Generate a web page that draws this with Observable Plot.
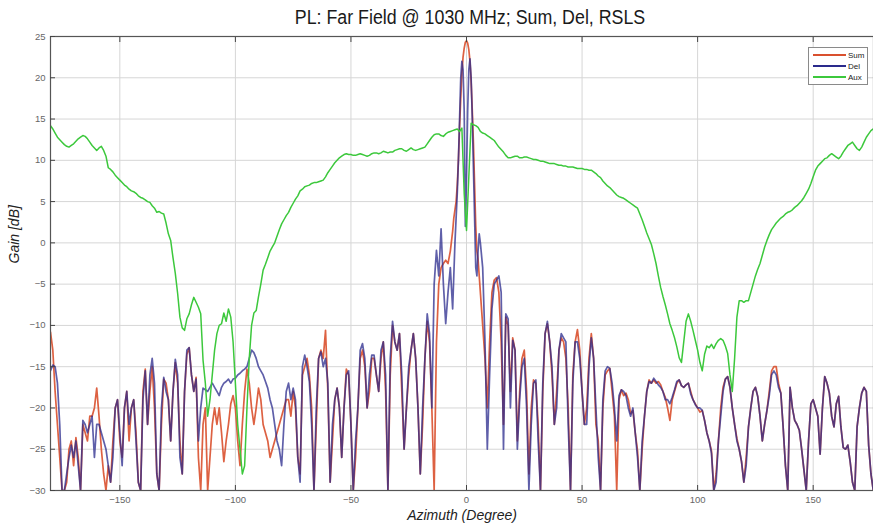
<!DOCTYPE html>
<html><head><meta charset="utf-8">
<script src="https://cdn.jsdelivr.net/npm/d3@7"></script>
<script src="https://cdn.jsdelivr.net/npm/@observablehq/plot@0.6"></script>
<style>
body{margin:0;background:#fff;font-family:"Liberation Sans",Arial,sans-serif;}
#wrap{position:relative;width:873px;height:529px;overflow:hidden;background:#fff;}
#title{height:30px;position:relative;}
#title span{position:absolute;left:0;width:940px;top:7px;text-align:center;font-size:20px;line-height:20px;color:#1a1a1a;transform:scaleX(0.89);transform-origin:470px 0;white-space:nowrap;}
#legend{position:absolute;left:808px;top:47px;width:58px;height:36px;border:1px solid #8a8a8a;background:#fff;font-size:8px;color:#222;}
#legend .row{position:absolute;left:4px;height:10px;display:flex;align-items:center;}
#legend .ln{display:inline-block;width:33px;height:1.5px;margin-right:2px;}
</style></head><body>
<div id="wrap">
<div id="title"><span>PL: Far Field @ 1030 MHz; Sum, Del, RSLS</span></div>
<div id="chart"></div>
<div id="legend"></div>
</div>
<script>
// ---------------- data ----------------
const seriesNames = ["Sum", "Del", "Aux"];
const seriesColors = ["#d9502e", "#2a2a8c", "#3cc83c"];
const xTicks = [-150, -100, -50, 0, 50, 100, 150];
const yTicks = [-30, -25, -20, -15, -10, -5, 0, 5, 10, 15, 20, 25];

const azLeft = d3.range(-180, -6);          // -180 .. -7
const azBeam = d3.range(-6, 6.25, 0.5);     // -6 .. 6 step 0.5
const azRight = d3.range(7, 181);           // 7 .. 180
const azAux = d3.range(-180, 181);          // -180 .. 180

const sumLeft = [
-10.8,-13,-18,-22,-26,-30,-30,-29,-25,-24,
-27,-23.6,-26,-30,-22,-23,-24,-21,-21,-20,
-17.6,-21,-25,-28,-30,-27,-29,-24,-20,-19,
-24,-26,-20,-18,-24,-20,-19,-23,-29,-30,
-18,-15.3,-22,-18,-15,-20,-28,-30,-22,-16.5,
-17,-19,-24,-18,-14.5,-17,-24,-28,-18,-13.5,
-12.7,-16,-18,-16.3,-26,-30,-22,-20,-30,-26,
-22,-20,-22,-20,-23,-26.5,-24,-22,-19.5,-18.5,
-20,-24,-27,-22,-18,-15.3,-17,-20,-22,-20,
-17.6,-19,-22,-23,-24,-26,-25,-24,-23,-22,
-21,-20,-19,-19,-21,-18,-20,-26,-28,-16,
-15,-14,-16,-20,-30,-22,-14,-13,-14,-10.6,
-18,-29,-24,-19,-17.6,-20,-26,-20,-15.3,-16,
-22,-30,-26,-20,-14,-13,-15,-20,-18,-14,
-14,-16,-18,-14,-12,-18,-30,-16,-10,-12,
-13,-11,-18,-25,-20,-16,-13,-11,-14,-20,
-28,-22,-14,-9.5,-12,-20,-30,-12,-5,-3,
-2.5,-2.1,-2.5,-1];
const delLeft = [
-15.5,-14.8,-15,-17,-22,-30,-30,-28,-26,-24.5,
-26,-24,-27,-30,-21.5,-22,-23,-22,-21,-26,
-22,-22,-23,-24,-25,-27,-29,-26,-20,-19,
-23,-27,-20,-18,-22,-20,-19,-24,-29,-30,
-19,-15.5,-22,-16,-14,-17,-28,-30,-20,-16.3,
-18,-19,-24,-18,-14.1,-16,-26,-28,-18,-13,
-12.7,-16,-18,-16.5,-24,-20,-17.6,-17.8,-18,-17.5,
-17,-17.5,-18,-18.5,-17.5,-17,-16.8,-16.5,-17,-16.5,
-16.4,-16,-15.8,-15.5,-15.3,-15,-14,-13,-13.3,-14,
-15,-15.5,-16,-16.8,-17.6,-19,-20,-22,-24,-25,
-27,-22,-18,-17,-19,-17.6,-19,-26,-29,-15,
-13.6,-15,-16.8,-22,-30,-20,-14,-13.2,-15,-14,
-17,-29,-22,-19,-17.6,-20,-26,-20,-16,-15.5,
-22,-30,-24,-20,-13,-12.2,-14,-20,-16,-13.6,
-13.6,-16,-18,-13,-12,-16,-30,-14,-9.5,-12,
-13,-11,-16,-25,-20,-15,-13,-11,-14,-20,
-28,-20,-14,-8.6,-11,-20,-5,-0.9,-4,1.7,
-5,-9.8,-6,-3];
const sumBeam = [1.4,3,4,5,7,10,14,17.5,20.5,22.5,23.6,24.3,24.5,24.2,23.4,22,19.5,16,12,7,2,-1,-2,-4,-6];
const delBeam = [-8,-4,0,3,6,10,15,20,22,21,16,2,8,16,21,22.3,20,15,9,3,-3,-4,-1,1.1,0];
const sumRight = [
-10,-14,-20,-12,-6,-4.5,-4.2,-6,-12,-22,
-9,-10,-18,-11.5,-13,-24,-18,-14,-13,-18,
-28,-20,-16.6,-17,-22,-30,-18,-11,-9.8,-12,
-16,-22,-18,-13,-11.5,-12,-14,-20,-30,-16,
-12,-10.5,-13,-18,-22,-20,-14,-11,-14,-22,
-24,-30,-20,-16,-15.5,-15.2,-18,-21,-30,-19,
-17.8,-18.5,-18.2,-19,-20.7,-20.3,-23,-25.2,-30,-25,
-21,-18,-16.6,-17,-16.6,-17,-16.8,-17.2,-18,-18.7,
-20,-21.5,-19,-18,-17,-16.6,-17.3,-17.5,-17.2,-17,
-18,-19,-19.5,-20,-20.5,-20.3,-21.5,-23,-24,-25.2,
-30,-28,-24,-20,-17.5,-16.5,-16.2,-17.5,-20,-22,
-23.7,-25,-26.5,-29,-26,-22.3,-20,-18,-17.5,-18.6,
-21,-24,-22,-20.3,-18,-15.5,-15,-15,-17,-18.2,
-22.3,-27,-30,-17.5,-20,-21.5,-22,-22.7,-25,-27.5,
-30,-24,-19.5,-19,-20,-21,-25.6,-20,-16.2,-17,
-18.2,-21,-22.3,-19.5,-18.6,-22.3,-24.8,-25,-24.5,-26.5,
-29,-30,-22.3,-20,-18.2,-17.5,-18,-24.5,-28,-30,
-24,-20,-22,-25];
const delRight = [
-3,-12,-25,-16,-8,-5,-4.5,-4,-6,-25,
-8.6,-9.2,-20,-11.8,-13,-25,-19,-15,-14,-20,
-30,-22,-17,-16.6,-24,-30,-17,-11,-9.5,-12,
-15,-22,-20,-13,-11,-11.5,-12,-22,-30,-17,
-12,-12,-14,-18,-22,-22,-15,-11.5,-14,-20,
-26,-30,-19,-15.5,-15,-15.2,-17,-20,-24,-18.5,
-17.8,-18,-18.5,-20,-21,-20,-23,-26,-30,-24,
-21,-18,-16.8,-17,-16.4,-16.8,-17.2,-17.5,-18,-19,
-19,-19.5,-18.7,-17.8,-16.8,-16.6,-17.3,-17.5,-17.2,-17,
-18.3,-19,-19.6,-20,-20,-20.3,-21.5,-23,-24,-25.5,
-30,-29,-24,-21,-18,-16.5,-16.2,-17.5,-20,-22,
-24,-25,-26.5,-29,-27,-22.3,-20,-18,-17.5,-18.6,
-21,-24,-22,-20.3,-18.5,-16,-15.5,-16,-17.5,-18.2,
-22.3,-27,-30,-17.5,-20,-21.5,-22,-22.7,-25,-27.5,
-30,-24,-19.5,-19,-20,-21,-25.6,-20,-16.2,-17,
-18.2,-21,-22.3,-19.5,-18.6,-22.3,-24.8,-25,-24.5,-26.5,
-29,-30,-22.3,-20,-18.2,-17.5,-18,-24.5,-28,-30,
-24,-20,-22,-25];
const aux = [
14.2,13.8,13.3,12.8,12.5,12.2,11.9,11.7,11.6,11.8,
12.0,12.3,12.6,12.8,13.0,12.9,12.6,12.2,11.8,11.5,
11.2,11.5,11.7,11.2,10.5,9.1,8.9,8.6,8.2,7.9,
7.6,7.3,7.0,6.8,6.5,6.3,6.2,6.0,5.7,5.5,
5.4,5.2,5.0,4.9,4.5,4.2,3.7,3.8,3.6,3.5,
2.4,1.1,0.3,-1.8,-3.7,-6.1,-9.0,-10.3,-10.6,-9.2,
-8.6,-7.5,-6.6,-7.2,-7.8,-8.6,-14.2,-17,-21,-19,
-16,-13,-11,-10,-9.8,-8.5,-9.5,-8,-9,-12,
-17,-22,-25,-28,-27,-20,-14,-10,-8.5,-8.2,
-6.5,-5,-3.3,-2.6,-1.8,-1.0,-0.5,0,0.8,1.6,
2.3,2.8,3.3,3.7,4.3,4.8,5.3,5.7,6.3,6.5,
6.8,6.9,7.0,7.2,7.3,7.3,7.4,7.5,7.6,8.0,
8.5,8.9,9.3,9.7,10.0,10.3,10.5,10.7,10.8,10.7,
10.7,10.6,10.6,10.7,10.8,10.7,10.6,10.5,10.6,10.8,
10.9,10.9,10.8,10.9,11.1,11.0,10.9,11.0,11.0,11.2,
11.3,11.4,11.4,11.2,11.1,11.3,11.5,11.3,11.2,11.3,
11.4,11.5,11.6,12.0,12.4,12.8,13.1,13.2,13.2,13.0,
12.9,13.2,13.4,13.5,13.6,13.7,13.8,13.5,13.9,6,
1.5,8,14.5,14.3,14.2,14.0,13.5,13.3,13.2,13.0,
12.8,12.6,12.4,12.0,11.6,11.3,11.0,10.6,10.3,10.3,
10.4,10.5,10.5,10.3,10.3,10.4,10.4,10.3,10.2,10.1,
10.1,10.0,9.9,9.9,9.8,9.7,9.6,9.6,9.6,9.5,
9.4,9.4,9.3,9.3,9.2,9.2,9.2,9.1,9.0,9.0,
9.0,8.9,8.9,8.8,8.8,8.6,8.4,8.1,7.9,7.5,
7.2,6.9,6.7,6.4,6.1,5.8,5.6,5.5,5.4,5.2,
5.0,4.8,4.6,4.4,4.2,3.5,2.8,2.0,1.2,0.5,
-0.2,-1.3,-2.5,-4.0,-5.4,-6.5,-7.5,-8.6,-9.8,-10.6,
-11.5,-12.6,-13.9,-14.5,-12,-9.5,-8.6,-9.5,-10.6,-11.8,
-13,-14.5,-15.5,-13.5,-12.5,-12.7,-12.3,-12.8,-12.2,-11.8,
-11.6,-11.8,-12.5,-13.4,-16,-18,-14,-9,-7,-7,
-7.2,-7,-7,-6,-5,-4,-3.2,-2.5,-1.5,-0.5,
0.3,1.0,1.6,2.0,2.4,2.7,3.0,3.2,3.5,3.7,
3.8,4.0,4.3,4.5,4.8,5.1,5.5,6.0,6.5,7.2,
8.0,8.8,9.3,9.6,9.9,10.2,10.3,10.6,10.8,10.6,
10.4,10.2,10.5,11.0,11.4,11.8,12.0,12.2,11.8,11.4,
11.2,11.6,12.2,12.8,13.2,13.6,13.8,14.0,14.2,14.4,
14.5];

// ---------------- build rows ----------------
function rowsOf(name, parts) {
  const out = [];
  for (const [azs, vals] of parts) azs.forEach((a, i) => out.push({series: name, az: a, gain: vals[i]}));
  return out;
}
const sumRows = rowsOf("Sum", [[azLeft, sumLeft], [azBeam, sumBeam], [azRight, sumRight]]);
const delRows = rowsOf("Del", [[azLeft, delLeft], [azBeam, delBeam], [azRight, delRight]]);
const auxRows = rowsOf("Aux", [[azAux, aux]]);

const colorOf = Object.fromEntries(seriesNames.map((n, i) => [n, seriesColors[i]]));
const tickColor = "#444";

const chart = Plot.plot({
  width: 873, height: 499,
  marginLeft: 50, marginRight: 0, marginTop: 6, marginBottom: 39,
  style: {fontFamily: "'Liberation Sans', Arial, sans-serif", background: "white", color: "#666"},
  x: {domain: [-180, 176.1], ticks: xTicks},
  y: {domain: [-30, 25], ticks: yTicks},
  marks: [
    Plot.gridX(xTicks, {stroke: "#d6d6d6", strokeOpacity: 1}),
    Plot.gridY(yTicks, {stroke: "#d6d6d6", strokeOpacity: 1}),
    Plot.line(sumRows, {x: "az", y: "gain", stroke: colorOf.Sum, strokeWidth: 1.7, strokeOpacity: 0.9, clip: true}),
    Plot.line(delRows, {x: "az", y: "gain", stroke: colorOf.Del, strokeWidth: 1.7, strokeOpacity: 0.75, clip: true}),
    Plot.line(auxRows, {x: "az", y: "gain", stroke: colorOf.Aux, strokeWidth: 1.5, clip: true}),
    Plot.frame({stroke: "#555", strokeWidth: 1.2}),
    Plot.axisX(xTicks, {anchor: "bottom", tickSize: -5, tickPadding: 11, fontSize: 9.5, label: null, stroke: tickColor}),
    Plot.axisX(xTicks, {anchor: "top", tickSize: -5, text: null, label: null, stroke: tickColor}),
    Plot.axisY(yTicks, {anchor: "left", tickSize: -5, tickPadding: 10, fontSize: 9.5, label: null, stroke: tickColor}),
    Plot.text(["Azimuth (Degree)"], {frameAnchor: "bottom", dy: 29, fontSize: 14, fontStyle: "italic", fill: "#222"}),
    Plot.text(["Gain [dB]"], {frameAnchor: "left", dx: -36, rotate: -90, fontSize: 14, fontStyle: "italic", fill: "#222"})
  ]
});
document.getElementById("chart").appendChild(chart);

// legend
const leg = document.getElementById("legend");
seriesNames.forEach((n, i) => {
  const r = document.createElement("div");
  r.className = "row";
  r.style.top = (2 + i * 11) + "px";
  r.innerHTML = `<span class="ln" style="background:${seriesColors[i]}"></span><span>${n}</span>`;
  leg.appendChild(r);
});
</script>
</body></html>
